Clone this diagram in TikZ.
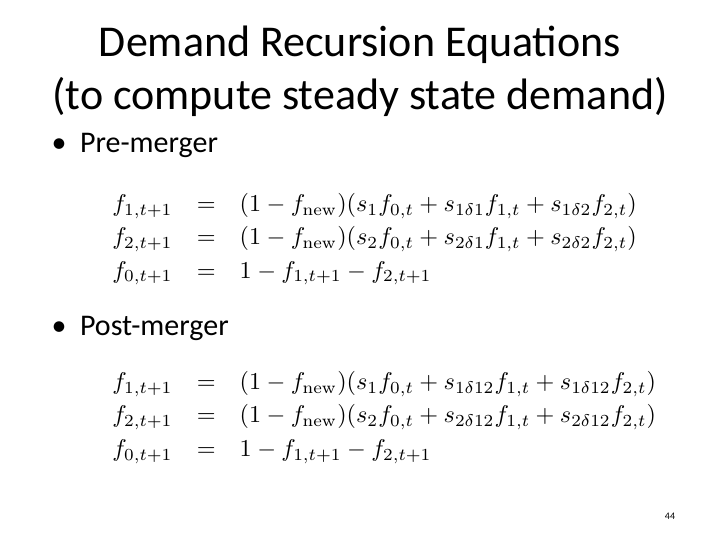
\documentclass[tikz,border=0pt]{standalone}
\usepackage{amsmath}
\usepackage{graphicx}
\usepackage[no-math]{fontspec}
\setmainfont{Carlito}
\begin{document}
\begin{tikzpicture}[x=1pt,y=-1pt,
  title/.style={font=\fontsize{44}{48}\selectfont,align=center},
  bullet/.style={font=\fontsize{30}{34}\selectfont,anchor=west},
  eqs/.style={anchor=north west,inner sep=0pt}]
\useasboundingbox[fill=white] (0,0) rectangle (720,540);
\node[title] (t1) at (360,45) {Demand Recursion Equations};
\node[title] (t2) at (360,97) {(to compute steady state demand)};
\node[bullet] (b1) at (48,145) {\textbullet\ \ Pre-merger};
\node[bullet] (b2) at (48,328) {\textbullet\ \ Post-merger};
\node[eqs] (e1) at (100,188) {\scalebox{2.42}{\renewcommand{\arraystretch}{1.15}$\begin{array}{rcl}
f_{1,t+1} & = & (1-f_{\mathrm{new}})(s_1 f_{0,t}+s_{1\delta1}f_{1,t}+s_{1\delta2}f_{2,t})\\
f_{2,t+1} & = & (1-f_{\mathrm{new}})(s_2 f_{0,t}+s_{2\delta1}f_{1,t}+s_{2\delta2}f_{2,t})\\
f_{0,t+1} & = & 1-f_{1,t+1}-f_{2,t+1}
\end{array}$}};
\node[eqs] (e2) at (100,366) {\scalebox{2.42}{\renewcommand{\arraystretch}{1.15}$\begin{array}{rcl}
f_{1,t+1} & = & (1-f_{\mathrm{new}})(s_1 f_{0,t}+s_{1\delta12}f_{1,t}+s_{1\delta12}f_{2,t})\\
f_{2,t+1} & = & (1-f_{\mathrm{new}})(s_2 f_{0,t}+s_{2\delta12}f_{1,t}+s_{2\delta12}f_{2,t})\\
f_{0,t+1} & = & 1-f_{1,t+1}-f_{2,t+1}
\end{array}$}};
\node[font=\fontsize{10}{12}\selectfont] (pg) at (670,516) {44};
\end{tikzpicture}
\end{document}
